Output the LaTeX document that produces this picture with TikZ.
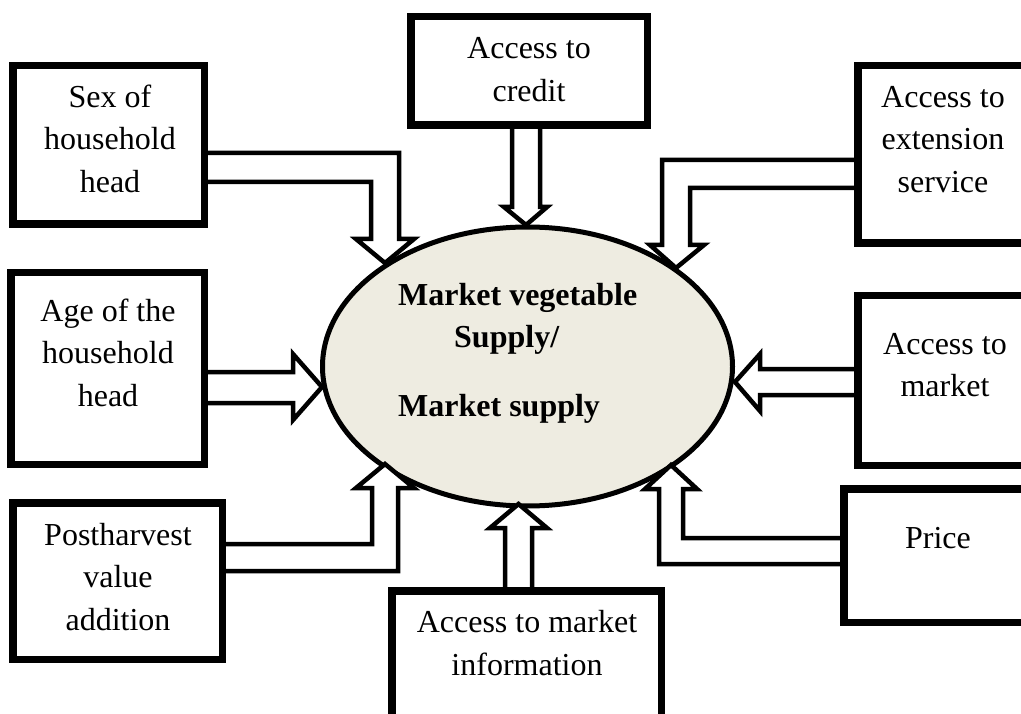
\documentclass[tikz,border=0pt]{standalone}
\usepackage{fontspec}
\setmainfont{Liberation Serif}
\usetikzlibrary{fit,shapes.geometric}
\definecolor{ovalfill}{HTML}{EEECE1}
\begin{document}
\begin{tikzpicture}[x=1pt,y=-1pt,
  box/.style={draw, line width=5pt, inner sep=0pt},
  lbl/.style={font=\fontsize{32}{42.5}\selectfont, align=center, inner sep=0pt},
  core/.style={font=\fontsize{32}{42.5}\selectfont\bfseries, inner sep=0pt, anchor=base west},
  blk/.style={draw, line width=4.5pt, fill=white, line join=miter}]
\useasboundingbox (0,0) rectangle (1021,714);
\clip (0,0) rectangle (1021,714);

% central oval
\node[ellipse, draw, fill=ovalfill, line width=5pt, inner sep=0pt,
      minimum width=410pt, minimum height=279pt] (mv) at (527.5,366.5) {};
\node[core] (coreA) at (398,306) {Market vegetable};
\node[core] (coreB) at (454,348) {Supply/};
\node[core] (coreC) at (398,416) {Market supply};

% factor boxes (the right-hand and bottom ones run past the page edge)
\node[box, fit={(14,67)(203,223)}] (sex) {};
\node[box, fit={(412,18)(646,124)}] (credit) {};
\node[box, fit={(859,67)(1040,242)}] (ext) {};
\node[box, fit={(12,274)(203,463)}] (age) {};
\node[box, fit={(859,297)(1040,464)}] (mkt) {};
\node[box, fit={(14,504)(221,658)}] (post) {};
\node[box, fit={(845,490)(1040,621)}] (price) {};
\node[box, fit={(393,592)(660,740)}] (info) {};

% arrow tips on the oval
\coordinate (tipSex) at (385,263);
\coordinate (tipCredit) at (526,225);
\coordinate (tipExt) at (676,268);
\coordinate (tipAge) at (322,387);
\coordinate (tipMkt) at (735,382);
\coordinate (tipPost) at (385,464);
\coordinate (tipInfo) at (518.5,504);
\coordinate (tipPrice) at (671,465);

% block arrows
\draw[blk] (sex.east |- 0,153) -- (399,153) -- (399,239) -- (414,239) -- (tipSex)
  -- (356,239) -- (371,239) -- (371,182) -- (sex.east |- 0,182);
\draw[blk] (credit.south -| 512,0) -- (512,207) -- (504,207) -- (tipCredit)
  -- (547,207) -- (540,207) -- (credit.south -| 540,0);
\draw[blk] (ext.west |- 0,160) -- (662,160) -- (662,245) -- (650,245) -- (tipExt)
  -- (704,245) -- (690,245) -- (690,188) -- (ext.west |- 0,188);
\draw[blk] (age.east |- 0,372) -- (293,372) -- (293,354) -- (tipAge)
  -- (293,420) -- (293,403) -- (age.east |- 0,403);
\draw[blk] (mkt.west |- 0,369) -- (760,369) -- (760,354) -- (tipMkt)
  -- (760,411) -- (760,395) -- (mkt.west |- 0,395);
\draw[blk] (post.east |- 0,544) -- (372,544) -- (372,488) -- (356,488) -- (tipPost)
  -- (414,488) -- (398,488) -- (398,571) -- (post.east |- 0,571);
\draw[blk] (info.north -| 505,0) -- (505,528) -- (490,528) -- (tipInfo)
  -- (547,528) -- (532,528) -- (info.north -| 532,0);
\draw[blk] (price.west |- 0,538) -- (683,538) -- (683,489) -- (697,489) -- (tipPrice)
  -- (645,489) -- (659,489) -- (659,564) -- (price.west |- 0,564);

% redraw box outlines above the arrow ends
\foreach \b in {sex,credit,ext,age,mkt,post,price,info}
  \draw[line width=5pt] (\b.north west) rectangle (\b.south east);

% box texts
\node[lbl] (sexT) at (110,138.6) {Sex of\\household\\head};
\node[lbl] (ageT) at (108,352.5) {Age of the\\household\\head};
\node[lbl] (postT) at (118,577) {Postharvest\\value\\addition};
\node[lbl] (creditT) at (529,69.4) {Access to\\credit};
\node[lbl] (extT) at (943,139.4) {Access to\\extension\\service};
\node[lbl] (mktT) at (945,364.9) {Access to\\market};
\node[lbl] (priceT) at (938,538.4) {Price};
\node[lbl] (infoT) at (527,642.9) {Access to market\\information};
\end{tikzpicture}
\end{document}
